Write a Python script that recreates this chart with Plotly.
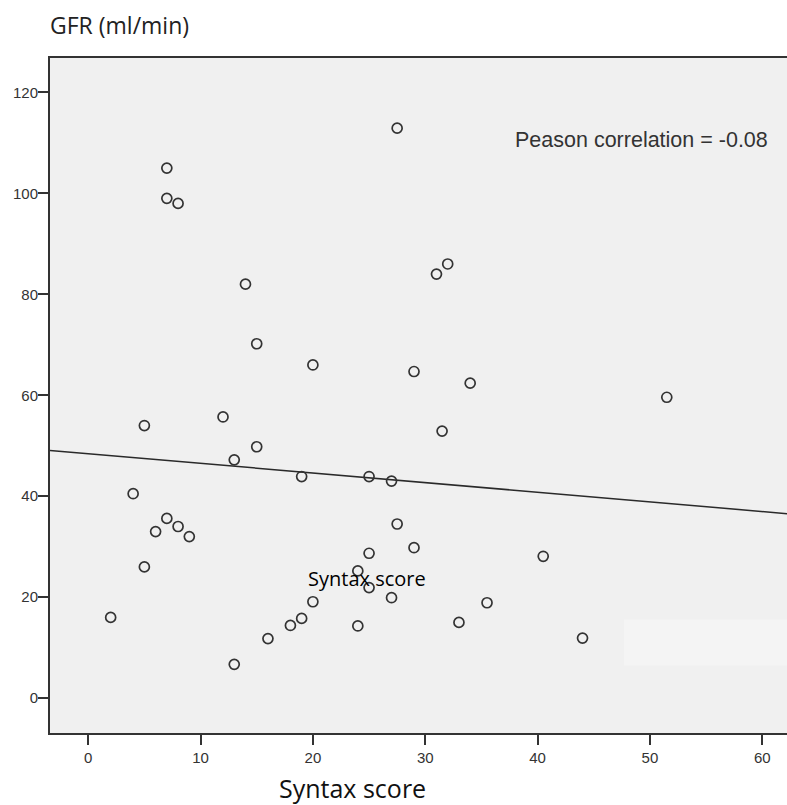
import numpy as np
import plotly.graph_objects as go

# Syntax score vs GFR, one entry per patient
syntax_score = [2, 4, 5, 5, 6, 7, 7, 7, 8, 8, 9, 12, 13, 13, 14, 15, 15, 16, 18,
                19, 19, 20, 20, 24, 24, 25, 25, 25, 27, 27, 27.5, 27.5, 29, 29,
                31, 32, 31.5, 34, 35.5, 33, 40.5, 44, 51.5]
gfr = [16, 40.5, 54, 26, 33, 105, 99, 35.6, 98, 34, 32, 55.7, 47.2, 6.7, 82,
       70.2, 49.8, 11.8, 14.4, 43.9, 15.8, 66, 19.1, 25.2, 14.3, 43.9, 28.7,
       21.9, 43, 19.9, 112.9, 34.5, 64.7, 29.8, 84, 86, 52.9, 62.4, 18.9, 15,
       28.1, 11.9, 59.6]

x_ticks = [0, 10, 20, 30, 40, 50, 60]
y_ticks = [0, 20, 40, 60, 80, 100, 120]
x_range = [-3.4, 62.2]
y_range = [-6.9, 126.8]

# Least-squares fit line across the visible x range
slope, intercept = np.polyfit(syntax_score, gfr, 1)
fit_x = np.array(x_range)
fit_y = intercept + slope * fit_x

fig = go.Figure()
fig.add_trace(go.Scatter(
    x=fit_x, y=fit_y, mode="lines",
    line=dict(color="#2a2a2a", width=1.5), hoverinfo="skip", showlegend=False,
))
fig.add_trace(go.Scatter(
    x=syntax_score, y=gfr, mode="markers",
    marker=dict(symbol="circle-open", size=10, color="#333333",
                line=dict(width=1.7, color="#333333")),
    showlegend=False,
))

axis_font = dict(family="Liberation Sans, Arial, sans-serif", size=15, color="#333333")
fig.update_xaxes(
    range=x_range, tickvals=x_ticks, ticks="outside", ticklen=10, tickwidth=1.5,
    tickcolor="#333333", tickfont=axis_font, showgrid=False, zeroline=False,
    showline=True, linecolor="#333333", linewidth=2, mirror=True,
)
fig.update_yaxes(
    range=y_range, tickvals=y_ticks, ticks="outside", ticklen=10, tickwidth=1.5,
    tickcolor="#333333", tickfont=axis_font, showgrid=False, zeroline=False,
    showline=True, linecolor="#333333", linewidth=2, ticklabelstandoff=-3,
)

fig.add_shape(type="rect", xref="paper", yref="paper",
              x0=0.779, x1=1.0, y0=0.1, y1=0.168,
              fillcolor="#f4f4f4", line=dict(width=0), layer="below")

fig.add_annotation(text="GFR (ml/min)", xref="paper", yref="paper",
                   x=-0.003, y=1.0, yshift=33, xanchor="left", yanchor="middle",
                   showarrow=False,
                   font=dict(family="Open Sans, sans-serif", size=23, color="#222222"))
fig.add_annotation(text="Syntax score", xref="paper", yref="paper",
                   x=0.411, y=0, yshift=-55, xanchor="center", yanchor="middle",
                   showarrow=False,
                   font=dict(family="Open Sans, sans-serif", size=25, color="#111111"))
fig.add_annotation(text="Syntax score", x=24.8, y=23.8,
                   xanchor="center", yanchor="middle", showarrow=False,
                   font=dict(family="Open Sans, sans-serif", size=20, color="#000000"))
fig.add_annotation(text="Peason correlation = -0.08", x=37.8, y=110.5,
                   xanchor="left", yanchor="middle", showarrow=False,
                   font=dict(family="Liberation Sans, Arial, sans-serif", size=21.5,
                             color="#333333"))

fig.update_layout(
    width=787, height=805,
    margin=dict(l=50, r=0, t=58, b=72),
    plot_bgcolor="#f0f0f0", paper_bgcolor="#ffffff",
)

fig.write_html("out.html")
